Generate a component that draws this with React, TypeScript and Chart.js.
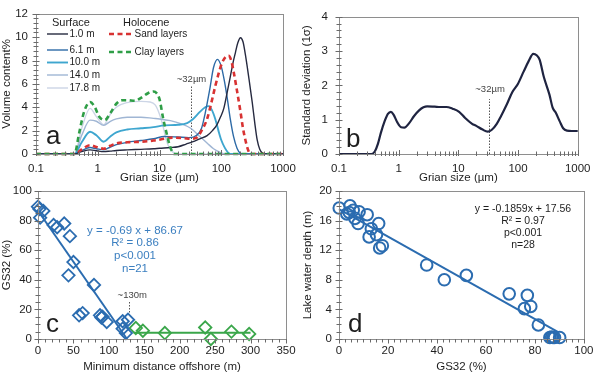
import React, { useEffect, useRef } from "react";
import { Chart, registerables } from "chart.js";

Chart.register(...registerables);

const FONT = "'Liberation Sans', Arial, Helvetica, sans-serif";
const INK = "#1e1e1e";
const FRAME = "#8e8e8e";

// ---------------- Panel a: grain-size distributions ----------------
const grainTickValues = [0.1, 1, 10, 100, 1000];
const grainTickLabels = ["0.1", "1", "10", "100", "1000"];

const surface1m: [number, number][] = [
  [0.1, 0], [0.42, 0], [0.55, 0.2], [0.75, 0.35], [0.95, 0.28], [1.25, 0.2], [1.6, 0.25], [2, 0.3],
  [3, 0.35], [5, 0.4], [8, 0.45], [10, 0.49], [15, 0.55], [20, 0.62], [27, 0.85], [34, 1.03],
  [45, 1.3], [59, 1.57], [72, 2.0], [85, 2.5], [98, 3.2], [110, 3.9], [125, 5.3], [140, 6.6],
  [155, 7.8], [170, 8.7], [185, 9.5], [205, 9.95], [225, 9.6], [246, 8.5], [280, 6.5], [318, 4.4],
  [350, 2.6], [382, 1.2], [420, 0.4], [460, 0.1], [520, 0], [1000, 0],
];
const surface6m: [number, number][] = [
  [0.1, 0], [0.42, 0], [0.55, 0.3], [0.75, 0.55], [0.95, 0.45], [1.25, 0.35], [1.6, 0.6], [2, 0.8],
  [3, 1.0], [5, 1.15], [8, 1.3], [12, 1.5], [20, 1.45], [30, 1.4], [40, 1.6], [48, 2.2], [55, 3.5],
  [65, 5.5], [75, 7.4], [87, 8.1], [100, 7.5], [112, 6.3], [124, 4.9], [140, 3.0], [158, 1.5],
  [180, 0.5], [205, 0.05], [230, 0], [1000, 0],
];
const surface10m: [number, number][] = [
  [0.1, 0], [0.42, 0], [0.55, 1.0], [0.75, 1.9], [0.95, 1.6], [1.25, 1.05], [1.6, 1.5], [2, 1.85],
  [3, 2.1], [5, 2.2], [8, 2.3], [12, 2.45], [20, 2.5], [28, 2.65], [35, 3.0], [45, 3.6], [55, 4.0],
  [62, 4.1], [70, 3.8], [80, 3.0], [90, 2.0], [100, 1.2], [115, 0.5], [130, 0.1], [145, 0], [1000, 0],
];
const surface14m: [number, number][] = [
  [0.1, 0], [0.42, 0], [0.55, 1.6], [0.75, 2.9], [0.95, 2.8], [1.25, 2.45], [1.6, 2.8], [2, 3.0],
  [3, 3.15], [5, 3.15], [8, 3.05], [10, 3.0], [15, 2.85], [22, 2.6], [32, 2.2], [45, 1.5], [60, 0.9],
  [75, 0.45], [95, 0.15], [120, 0], [1000, 0],
];
const surface17m: [number, number][] = [
  [0.1, 0], [0.42, 0], [0.55, 2.2], [0.75, 3.9], [0.95, 3.2], [1.25, 2.5], [1.6, 3.4], [2, 4.0],
  [3, 4.4], [5, 4.5], [7, 4.45], [8.5, 4.2], [10, 3.4], [11.5, 2.3], [13, 1.1], [15, 0.4], [18, 0.05],
  [22, 0], [1000, 0],
];
const sandLayers: [number, number][] = [
  [0.1, 0], [0.42, 0], [0.55, 0.4], [0.75, 0.75], [0.95, 0.6], [1.25, 0.45], [1.6, 0.7], [2, 0.9],
  [3, 1.0], [5, 1.05], [8, 1.15], [12, 1.3], [16, 1.4], [25, 1.35], [32, 1.3], [40, 1.4], [48, 2.0],
  [59, 3.0], [70, 4.5], [80, 5.8], [92, 7.0], [103, 7.8], [118, 8.3], [132, 8.4], [145, 8.0],
  [158, 7.1], [180, 5.4], [205, 3.6], [225, 2.2], [246, 1.2], [270, 0.4], [290, 0.05], [320, 0], [1000, 0],
];
const clayLayers: [number, number][] = [
  [0.1, 0], [0.42, 0], [0.5, 1.8], [0.6, 3.6], [0.75, 4.45], [0.9, 4.0], [1.05, 3.2], [1.3, 2.9],
  [1.6, 3.5], [2.0, 4.3], [2.5, 4.6], [3.0, 4.6], [4.0, 4.55], [5.0, 4.8], [6.5, 5.2], [8, 5.35],
  [9, 5.2], [10, 4.7], [11.5, 3.0], [13, 1.8], [14.5, 0.8], [16, 0.2], [17, 0], [1000, 0],
];
const surfaceLabels = ["1.0 m", "6.1 m", "10.0 m", "14.0 m", "17.8 m"];
const holoceneLabels = ["Sand layers", "Clay layers"];

// ---------------- Panel b: standard deviation ----------------
const stdDevCurve: [number, number][] = [
  [0.1, 0], [0.35, 0], [0.4, 0.08], [0.45, 0.3], [0.5, 0.6], [0.58, 0.95], [0.66, 1.17], [0.74, 1.23],
  [0.82, 1.15], [0.95, 0.92], [1.1, 0.78], [1.25, 0.77], [1.5, 0.9], [1.8, 1.1], [2.2, 1.27],
  [2.6, 1.36], [3, 1.39], [4, 1.38], [5, 1.37], [6.3, 1.37], [8, 1.32], [10.3, 1.23], [13, 1.05],
  [17, 0.88], [20, 0.82], [25, 0.72], [31, 0.65], [36, 0.7], [44, 0.88], [52, 1.11], [65, 1.45],
  [80, 1.8], [100, 2.05], [124, 2.4], [150, 2.7], [180, 2.92], [205, 2.88], [230, 2.75], [270, 2.25],
  [336, 1.73], [380, 1.35], [430, 1.2], [500, 0.95], [570, 0.75], [660, 0.68], [800, 0.67], [1000, 0.67],
];

// ---------------- Panel c: GS32 vs distance offshore ----------------
const nearDistance = [0, 2, 7.5, 3, 22, 27, 37, 45, 50, 43, 79, 58, 63, 87.5, 89.5, 91, 97, 119.5, 127, 119.5, 124];
const nearGS32 = [89.4, 87.8, 86.5, 82, 77, 75.5, 78, 69.5, 52, 43, 36.5, 16, 17.5, 16, 14.5, 15, 11.5, 12, 13, 7, 4];
const farDistance = [138, 148, 179, 236, 244, 273, 298];
const farGS32 = [7.4, 5.6, 4.0, 7.8, 0, 5.0, 3.4];
const nearFit = { slope: -0.69, intercept: 86.67, from: 0, to: 125.6 };
const farLevelX = [135, 300];
const farLevelY = [4.3, 4.3];
const nearFitText = ["y = -0.69 x + 86.67", "R\u00B2 = 0.86", "p<0.001", "n=21"];

// ---------------- Panel d: depth vs GS32 ----------------
const depthGS32 = [0.1, 4.5, 4.2, 5.8, 8.2, 6.5, 7.8, 11.5, 13.2, 12.3, 15.3, 16.2, 16.6, 17.7, 3.2, 35.8, 43, 52, 69.5, 76.9, 75.7, 78.3, 81.4, 86.1, 86.8, 87.4, 88.0, 90.1];
const depthMeters = [17.7, 18.0, 17.1, 17.4, 17.2, 16.3, 15.6, 16.8, 14.9, 13.8, 14.1, 15.6, 12.3, 12.6, 16.9, 10.0, 8.0, 8.6, 6.1, 5.9, 4.1, 4.4, 1.9, 0.2, 0.25, 0.2, 0.2, 0.2];
const depthFit = { slope: -0.1859, intercept: 17.56, from: 0, to: 89.5 };
const depthFitText = ["y = -0.1859x + 17.56", "R\u00B2 = 0.97", "p<0.001", "n=28"];

// ---------------- helpers ----------------
type Box = { left: number; top: number; right: number; bottom: number; yW: number; xH: number };

const pts = (arr: [number, number][]) => arr.map(([x, y]) => ({ x, y }));
const zip = (xs: number[], ys: number[]) => xs.map((x, i) => ({ x, y: ys[i] }));
const fitLine = (f: { slope: number; intercept: number; from: number; to: number }) =>
  [f.from, f.to].map((x) => ({ x, y: f.slope * x + f.intercept }));

function layoutFor(b: Box) {
  return { padding: { left: b.left - b.yW, top: b.top, right: 600 - b.right, bottom: 375 - b.bottom - b.xH } };
}

function line(ctx: CanvasRenderingContext2D, x1: number, y1: number, x2: number, y2: number) {
  ctx.beginPath();
  ctx.moveTo(x1, y1);
  ctx.lineTo(x2, y2);
  ctx.stroke();
}

function txt(ctx: CanvasRenderingContext2D, s: string, x: number, y: number, size: number, color: string, align: CanvasTextAlign = "left") {
  ctx.save();
  ctx.font = `${size}px ${FONT}`;
  ctx.fillStyle = color;
  ctx.textAlign = align;
  ctx.textBaseline = "middle";
  ctx.fillText(s, x, y);
  ctx.restore();
}

function drawFrame(chart: any) {
  const { ctx, chartArea: a } = chart;
  ctx.save();
  ctx.strokeStyle = FRAME;
  ctx.lineWidth = 1;
  ctx.strokeRect(Math.round(a.left) + 0.5, Math.round(a.top) + 0.5, Math.round(a.right - a.left), Math.round(a.bottom - a.top));
  ctx.restore();
}

function drawYTicks(chart: any, minor: number, major: number) {
  const { ctx, chartArea: a } = chart;
  const y = chart.scales.y;
  const n = Math.round((y.max - y.min) / minor);
  ctx.save();
  ctx.strokeStyle = "#6a6a6a";
  ctx.lineWidth = 1;
  for (let i = 0; i <= n; i++) {
    const v = y.min + i * minor;
    const p = Math.round(y.getPixelForValue(v)) + 0.5;
    const isMajor = Math.abs(v / major - Math.round(v / major)) < 1e-6;
    const len = isMajor ? 3.5 : 2.5;
    line(ctx, a.left - len, p, a.left + len, p);
  }
  ctx.restore();
}

function drawXLogTicks(chart: any) {
  const { ctx, chartArea: a } = chart;
  const x = chart.scales.x;
  ctx.save();
  ctx.strokeStyle = "#6a6a6a";
  ctx.lineWidth = 1;
  for (let d = -1; d <= 3; d++) {
    for (let k = 1; k <= 9; k++) {
      const v = k * Math.pow(10, d);
      if (v > 1000.0001) break;
      const p = Math.round(x.getPixelForValue(v)) + 0.5;
      const len = k === 1 ? 4 : 2.5;
      line(ctx, p, a.bottom - len, p, a.bottom + 2);
    }
  }
  ctx.restore();
}

function drawXLinTicks(chart: any, minor: number, major: number) {
  const { ctx, chartArea: a } = chart;
  const x = chart.scales.x;
  const n = Math.round((x.max - x.min) / minor);
  ctx.save();
  ctx.strokeStyle = "#6a6a6a";
  ctx.lineWidth = 1;
  for (let i = 0; i <= n; i++) {
    const v = x.min + i * minor;
    const p = Math.round(x.getPixelForValue(v)) + 0.5;
    const isMajor = Math.abs(v / major - Math.round(v / major)) < 1e-6;
    line(ctx, p, a.bottom, p, a.bottom + (isMajor ? 4.5 : 3.5));
  }
  ctx.restore();
}

function dotted(ctx: CanvasRenderingContext2D, x: number, y1: number, y2: number) {
  ctx.save();
  ctx.strokeStyle = "#555";
  ctx.lineWidth = 1;
  ctx.setLineDash([1.5, 1.5]);
  const px = Math.round(x) + 0.5;
  line(ctx, px, y1, px, y2);
  ctx.restore();
}

function panelLetter(ctx: CanvasRenderingContext2D, s: string, x: number, y: number) {
  ctx.save();
  ctx.font = `26px ${FONT}`;
  ctx.fillStyle = INK;
  ctx.textAlign = "left";
  ctx.textBaseline = "alphabetic";
  ctx.fillText(s, x, y);
  ctx.restore();
}

const tickFont = { family: FONT, size: 11.5, lineHeight: 1 };
const titleFont = { family: FONT, size: 11.5 };

function axis(extra: any, title: string, padding: number, size: number, isX: boolean) {
  return {
    ...extra,
    grid: { display: false, drawTicks: false, tickLength: 0 },
    border: { display: false },
    ticks: { ...(extra.ticks || {}), padding, color: INK, font: tickFont, autoSkip: false, maxRotation: 0 },
    title: { display: true, text: title, color: INK, font: titleFont, padding: 0 },
    afterFit: (s: any) => {
      if (isX) s.height = size;
      else s.width = size;
    },
  };
}

function baseOptions(box: Box, scales: any) {
  return {
    animation: false,
    responsive: false,
    maintainAspectRatio: false,
    devicePixelRatio: 1,
    layout: layoutFor(box),
    plugins: { legend: { display: false }, tooltip: { enabled: false } },
    events: [],
    scales,
  };
}

function curve(data: [number, number][], color: string, width: number, dash: number[] = []) {
  return {
    data: pts(data),
    borderColor: color,
    borderWidth: width,
    borderDash: dash,
    pointRadius: 0,
    fill: false,
    cubicInterpolationMode: "monotone",
    clip: 4,
  };
}

// ---------------- chart configs ----------------
const boxA: Box = { left: 36, top: 6, right: 283, bottom: 154, yW: 36, xH: 31 };
const boxB: Box = { left: 339, top: 6, right: 586, bottom: 154, yW: 39, xH: 31 };
const boxC: Box = { left: 38, top: 191, right: 286, bottom: 339, yW: 38, xH: 35 };
const boxD: Box = { left: 339, top: 191, right: 586, bottom: 339, yW: 38, xH: 35 };

const logX = (title: string) =>
  axis(
    {
      type: "logarithmic",
      min: 0.1,
      max: 1000,
      afterBuildTicks: (s: any) => {
        s.ticks = grainTickValues.map((v) => ({ value: v }));
      },
      ticks: { callback: (_v: any, i: number) => grainTickLabels[i] },
    },
    title,
    9.5,
    31,
    true
  );

function configA() {
  const surfaceStyles = [
    ["#262a40", 1.4],
    ["#2d6aa6", 1.4],
    ["#3ea6cf", 1.9],
    ["#a0b6d4", 1.4],
    ["#ccd5e6", 1.4],
  ];
  const surfaces = [surface1m, surface6m, surface10m, surface14m, surface17m];
  const sandStyle = { color: "#d83232", dash: [5, 3.5] };
  const clayStyle = { color: "#2f9e47", dash: [5, 3.5] };
  return {
    type: "line",
    data: {
      datasets: [
        curve(clayLayers, clayStyle.color, 2.6, clayStyle.dash),
        curve(sandLayers, sandStyle.color, 2.6, sandStyle.dash),
        ...surfaces.map((s, i) => curve(s, surfaceStyles[i][0] as string, surfaceStyles[i][1] as number)),
      ],
    },
    options: baseOptions(boxA, {
      x: logX("Grian size (\u00B5m)"),
      y: axis({ min: 0, max: 12, ticks: { stepSize: 2 } }, "Volume content%", 8, 36, false),
    }),
    plugins: [
      {
        id: "decorA",
        beforeDatasetsDraw(chart: any) {
          const { ctx } = chart;
          const x = chart.scales.x;
          const y = chart.scales.y;
          dotted(ctx, x.getPixelForValue(32), y.getPixelForValue(0), y.getPixelForValue(5.8));
        },
        afterDraw(chart: any) {
          const { ctx } = chart;
          const x = chart.scales.x;
          const y = chart.scales.y;
          drawFrame(chart);
          drawYTicks(chart, 0.4, 2);
          drawXLogTicks(chart);
          txt(ctx, "~32\u00B5m", x.getPixelForValue(33), y.getPixelForValue(6.35), 9.5, "#444", "center");
          // legend
          txt(ctx, "Surface", 52, 23, 11, INK);
          txt(ctx, "Holocene", 123, 23, 11, INK);
          const rows = [34, 50, 62.5, 75, 88];
          surfaceLabels.forEach((lab, i) => {
            ctx.save();
            ctx.strokeStyle = surfaceStyles[i][0] as string;
            ctx.lineWidth = surfaceStyles[i][1] as number;
            line(ctx, 47, rows[i], 68, rows[i]);
            ctx.restore();
            txt(ctx, lab, 69.5, rows[i], 10, INK);
          });
          const hol = [sandStyle, clayStyle];
          const hrows = [34, 52];
          holoceneLabels.forEach((lab, i) => {
            ctx.save();
            ctx.strokeStyle = hol[i].color;
            ctx.lineWidth = 2.6;
            ctx.setLineDash(hol[i].dash);
            line(ctx, 109, hrows[i], 133, hrows[i]);
            ctx.restore();
            txt(ctx, lab, 134.5, hrows[i], 10, INK);
          });
          panelLetter(ctx, "a", 46, 144);
        },
      },
    ],
  };
}

function configB() {
  return {
    type: "line",
    data: { datasets: [curve(stdDevCurve, "#1f2441", 2.2)] },
    options: baseOptions(boxB, {
      x: logX("Grian size (\u00B5m)"),
      y: axis({ min: 0, max: 4, ticks: { stepSize: 1 } }, "Standard deviation (1\u03C3)", 11, 39, false),
    }),
    plugins: [
      {
        id: "decorB",
        beforeDatasetsDraw(chart: any) {
          const { ctx } = chart;
          const x = chart.scales.x;
          const y = chart.scales.y;
          dotted(ctx, x.getPixelForValue(32), y.getPixelForValue(0), y.getPixelForValue(1.6));
        },
        afterDraw(chart: any) {
          const { ctx } = chart;
          const x = chart.scales.x;
          const y = chart.scales.y;
          drawFrame(chart);
          drawYTicks(chart, 0.2, 1);
          drawXLogTicks(chart);
          txt(ctx, "~32\u00B5m", x.getPixelForValue(34), y.getPixelForValue(1.87), 9.5, "#444", "center");
          panelLetter(ctx, "b", 346, 147);
        },
      },
    ],
  };
}

const NEAR = "#2b6cb0";
const FAR = "#3aa64a";

function configC() {
  const diamond = (data: any, color: string) => ({
    data,
    pointStyle: "rectRot",
    pointRadius: 6.2,
    borderColor: color,
    borderWidth: 1.8,
    backgroundColor: "rgba(255,255,255,0)",
    showLine: false,
    clip: 8,
  });
  const fit = (data: any, color: string) => ({
    data,
    borderColor: color,
    borderWidth: 2,
    pointRadius: 0,
    showLine: true,
    fill: false,
    clip: 4,
  });
  return {
    type: "scatter",
    data: {
      datasets: [
        diamond(zip(nearDistance, nearGS32), NEAR),
        diamond(zip(farDistance, farGS32), FAR),
        fit(fitLine(nearFit), NEAR),
        fit(zip(farLevelX, farLevelY), FAR),
      ],
    },
    options: baseOptions(boxC, {
      x: axis({ type: "linear", min: 0, max: 350, ticks: { stepSize: 50 } }, "Minimum distance offshore (m)", 6.5, 35, true),
      y: axis({ min: 0, max: 100, ticks: { stepSize: 20 } }, "GS32 (%)", 6, 38, false),
    }),
    plugins: [
      {
        id: "decorC",
        beforeDatasetsDraw(chart: any) {
          const { ctx } = chart;
          const x = chart.scales.x;
          const y = chart.scales.y;
          dotted(ctx, x.getPixelForValue(129), y.getPixelForValue(25), y.getPixelForValue(15));
        },
        afterDraw(chart: any) {
          const { ctx } = chart;
          const x = chart.scales.x;
          const y = chart.scales.y;
          drawFrame(chart);
          drawYTicks(chart, 5, 20);
          drawXLinTicks(chart, 10, 50);
          txt(ctx, "~130m", x.getPixelForValue(133), y.getPixelForValue(29.5), 9.5, "#444", "center");
          const ys = [230.5, 243, 256, 268.5];
          nearFitText.forEach((s, i) => txt(ctx, s, 135, ys[i], 11.5, "#3b7fc0", "center"));
          panelLetter(ctx, "c", 46, 332);
        },
      },
    ],
  };
}

function configD() {
  return {
    type: "scatter",
    data: {
      datasets: [
        {
          data: zip(depthGS32, depthMeters),
          pointStyle: "circle",
          pointRadius: 5.8,
          borderColor: NEAR,
          borderWidth: 2,
          backgroundColor: "rgba(255,255,255,0)",
          showLine: false,
          clip: 8,
        },
        {
          data: fitLine(depthFit),
          borderColor: NEAR,
          borderWidth: 2,
          pointRadius: 0,
          showLine: true,
          fill: false,
          clip: 4,
        },
      ],
    },
    options: baseOptions(boxD, {
      x: axis({ type: "linear", min: 0, max: 100, ticks: { stepSize: 20 } }, "GS32 (%)", 6.5, 35, true),
      y: axis({ min: 0, max: 20, ticks: { stepSize: 4 } }, "Lake water depth (m)", 7, 38, false),
    }),
    plugins: [
      {
        id: "decorD",
        afterDraw(chart: any) {
          const { ctx } = chart;
          drawFrame(chart);
          drawYTicks(chart, 1, 4);
          drawXLinTicks(chart, 2.5, 20);
          const ys = [209, 221, 233, 245];
          depthFitText.forEach((s, i) => txt(ctx, s, 523, ys[i], 10.5, INK, "center"));
          panelLetter(ctx, "d", 348, 332);
        },
      },
    ],
  };
}

function ChartCanvas({ make }: { make: () => any }) {
  const ref = useRef<HTMLCanvasElement | null>(null);
  useEffect(() => {
    if (!ref.current) return;
    const chart = new Chart(ref.current, make());
    return () => chart.destroy();
  }, [make]);
  return (
    <canvas
      ref={ref}
      width={600}
      height={375}
      style={{ position: "absolute", left: 0, top: 0, width: 600, height: 375 }}
    />
  );
}

export default function App() {
  return (
    <div style={{ position: "fixed", left: 0, top: 0, width: 600, height: 375, background: "#fff", overflow: "hidden" }}>
      <ChartCanvas make={configA} />
      <ChartCanvas make={configB} />
      <ChartCanvas make={configC} />
      <ChartCanvas make={configD} />
    </div>
  );
}
